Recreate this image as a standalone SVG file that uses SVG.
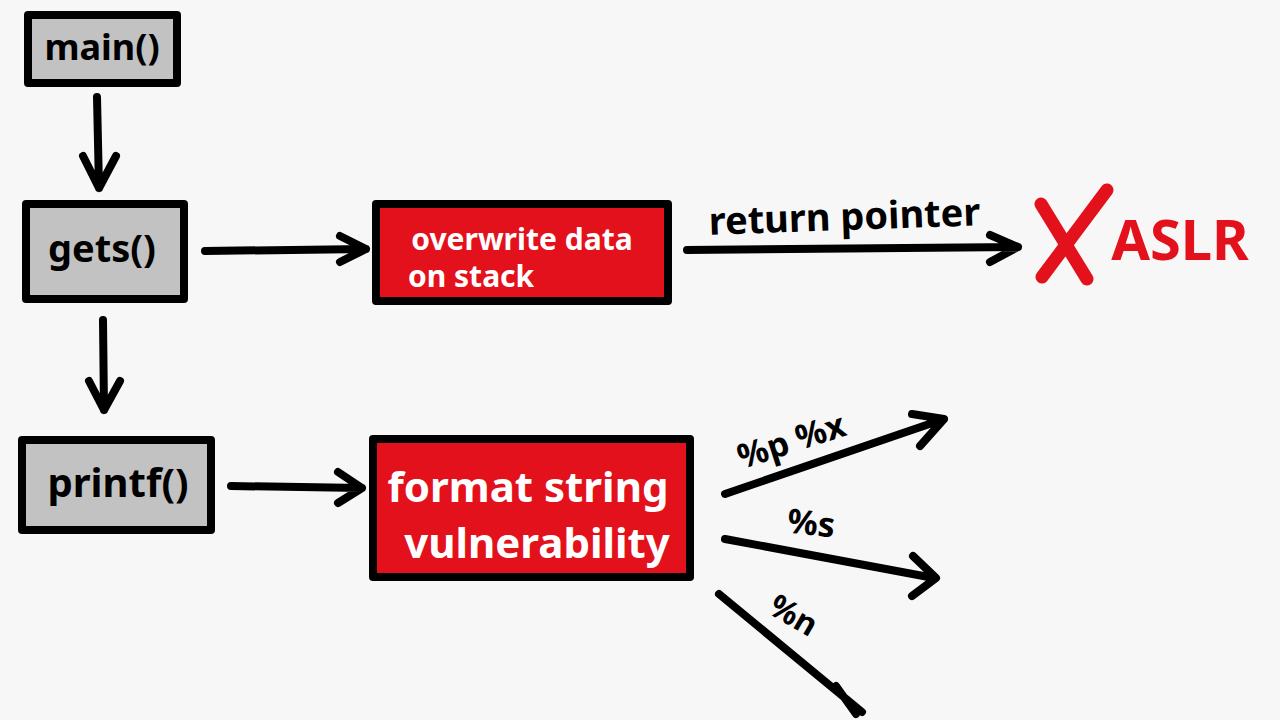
<svg xmlns="http://www.w3.org/2000/svg" width="1280" height="720" viewBox="0 0 1280 720">
<defs>
<style>
.bg{fill:#f7f7f7}
.gray{fill:#c2c2c2;stroke:#000;stroke-width:8;stroke-linejoin:round}
.red{fill:#e3111b;stroke:#000;stroke-width:8;stroke-linejoin:round}
.lbl{font-family:"Noto Sans","DejaVu Sans",sans-serif;font-weight:bold;fill:#000}
.wl{font-family:"Noto Sans","DejaVu Sans",sans-serif;font-weight:bold;fill:#fff}
.line{fill:none;stroke:#000;stroke-width:8;stroke-linecap:round;stroke-linejoin:round}
</style>
</defs>
<rect class="bg" x="0" y="0" width="1280" height="720"/>
<g id="main">
<rect class="gray" x="28" y="15" width="149" height="68"/>
<text class="lbl" x="102" y="60" font-size="36" text-anchor="middle">main()</text>
</g>
<g id="gets">
<rect class="gray" x="26" y="204" width="158" height="95"/>
<text class="lbl" x="102" y="262" font-size="38" text-anchor="middle">gets()</text>
</g>
<g id="printf">
<rect class="gray" x="22" y="440" width="189" height="90"/>
<text class="lbl" x="118" y="497" font-size="40" text-anchor="middle">printf()</text>
</g>
<g id="overwrite">
<rect class="red" x="376" y="204" width="292" height="97"/>
<text class="wl" x="522" y="250" font-size="30" text-anchor="middle">overwrite data</text>
<text class="wl" x="408" y="287" font-size="30">on stack</text>
</g>
<g id="format">
<rect class="red" x="373" y="439" width="317" height="138"/>
<text class="wl" x="528" y="502" font-size="42" text-anchor="middle">format string</text>
<text class="wl" x="537" y="558" font-size="42" text-anchor="middle">vulnerability</text>
</g>
<g id="aslr">
<path d="M1041 204 L1087 279 M1107 190 L1042 277" fill="none" stroke="#e3111b" stroke-width="13" stroke-linecap="round"/>
<text x="1180" y="260" font-size="56" text-anchor="middle" font-family="Noto Sans, DejaVu Sans, sans-serif" font-weight="bold" fill="#e3111b">ASLR</text>
</g>
<g id="connectors">
<path class="line" d="M97 97 L99 188 M83 156 L99 188 L116 156"/>
<path class="line" d="M103 320 L104 410 M89 381 L104 410 L120 381"/>
<path class="line" d="M205 251 L366 249 M340 236 L366 249 L340 262"/>
<path class="line" d="M231 486 L362 488 M338 472 L362 488 L338 503"/>
<path class="line" d="M687 250 L1018 247 M990 235 L1018 247 L990 262"/>
<path class="line" d="M725 494 L944 419 M912 414 L944 419 L920 446"/>
<path class="line" d="M725 539 L934 578 M913 556 L936 578 L912 596"/>
<path class="line" d="M719 594 L862 712 M836 686 L856 714"/>
</g>
<g id="labels">
<text class="lbl" x="845" y="230" font-size="38" text-anchor="middle" transform="rotate(-2 845 230)">return pointer</text>
<text class="lbl" x="795" y="452" font-size="34" text-anchor="middle" transform="rotate(-18 795 452)">%p %x</text>
<text class="lbl" x="810" y="535" font-size="34" text-anchor="middle" transform="rotate(6 810 535)">%s</text>
<text class="lbl" x="788" y="625" font-size="32" text-anchor="middle" transform="rotate(30 788 625)">%n</text>
</g>
</svg>
